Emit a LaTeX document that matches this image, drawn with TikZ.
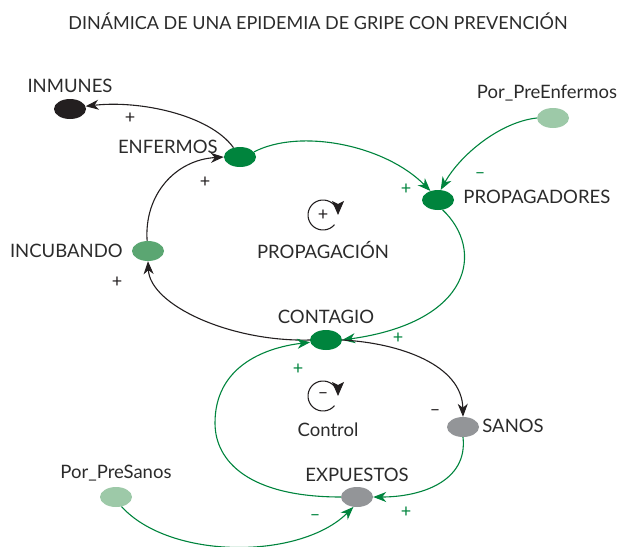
\documentclass[tikz,border=0pt]{standalone}
\usepackage{fontspec}
\setmainfont{Lato}
\usetikzlibrary{positioning, arrows.meta, shapes.geometric}
\definecolor{verde}{HTML}{00843D}
\definecolor{verdemed}{HTML}{5BA672}
\definecolor{verdeclaro}{HTML}{9DC9A8}
\definecolor{gris}{HTML}{939598}
\definecolor{negro}{HTML}{231F20}
\definecolor{texto}{HTML}{2B2B2B}

\begin{document}
\begin{tikzpicture}[x=1pt, y=-1pt,
  var/.style={ellipse, minimum width=32pt, minimum height=20pt, inner sep=0pt},
  lbl/.style={text=texto, font=\fontsize{18.5}{21}\selectfont, inner sep=0pt},
  sgn/.style={font=\fontsize{18}{20}\selectfont, inner sep=0pt},
  enlace/.style={line width=1.1pt, -{Stealth[length=13pt, width=10pt, inset=4pt]}},
  lazo/.style={line width=1.1pt, negro, -{Stealth[length=14pt, width=12pt, inset=3pt]}}]
\useasboundingbox (0,0) rectangle (623,546);

\node (titulo) [text=texto, font=\fontsize{18}{21}\selectfont] at (318,21) {DINÁMICA DE UNA EPIDEMIA DE GRIPE CON PREVENCIÓN};

% variables
\node (inm) [var, fill=negro] at (70,109) {};
\node (enf) [var, fill=verde] at (240,157) {};
\node (pro) [var, fill=verde] at (438,200) {};
\node (ppe) [var, fill=verdeclaro] at (553,118) {};
\node (inc) [var, fill=verdemed] at (148,251) {};
\node (con) [var, fill=verde] at (326,340) {};
\node (san) [var, fill=gris] at (463,427) {};
\node (exp) [var, fill=gris] at (357,497) {};
\node (pps) [var, fill=verdeclaro] at (116,497) {};

% etiquetas
\node (inmL) [lbl, above=6pt of inm] {INMUNES};
\node (enfL) [lbl, left=6pt of enf, yshift=10pt] {ENFERMOS};
\node (proL) [lbl, right=9pt of pro, yshift=3pt] {PROPAGADORES};
\node (ppeL) [lbl, above=6pt of ppe, xshift=-6pt] {Por\_PreEnfermos};
\node (incL) [lbl, left=9pt of inc] {INCUBANDO};
\node (conL) [lbl, above=6pt of con] {CONTAGIO};
\node (sanL) [lbl, right=3pt of san, yshift=1pt] {SANOS};
\node (expL) [lbl, above=5pt of exp] {EXPUESTOS};
\node (ppsL) [lbl, above=5pt of pps] {Por\_PreSanos};

% lazos
\coordinate (lz1) at (323,215);
\coordinate (lz2) at (323,396);
\draw[lazo] (lz1) ++(40:15) arc[start angle=40, end angle=360, radius=15];
\node (lz1s) [sgn, text=negro] at (lz1) {+};
\node (lz1L) [lbl, below=26pt of lz1] {PROPAGACIÓN};
\draw[lazo] (lz2) ++(40:15) arc[start angle=40, end angle=360, radius=15];
\node (lz2s) [sgn, text=negro] at (lz2) {--};
\node (lz2L) [lbl, below=27pt of lz2, xshift=5pt] {Control};

% enlaces
\draw[enlace, negro] (enf.125) .. controls (210,115) and (140,100) .. (inm.10);
\draw[enlace, negro] (inc.95) .. controls (144,195) and (175,160) .. (enf.west);
\draw[enlace, negro] (con.west) .. controls (230,342) and (150,305) .. (inc.south);
\draw[enlace, verde] (enf.20) .. controls (300,128) and (385,145) .. (pro.130);
\draw[enlace, verde] (ppe.west) .. controls (500,122) and (460,155) .. (pro.75);
\draw[enlace, verde] (pro.-65) .. controls (485,250) and (472,322) .. (con.east);
\draw[enlace, negro] (con.east) .. controls (400,343) and (462,365) .. (san.north);
\draw[enlace, verde] (san.south) .. controls (468,482) and (420,497) .. (exp.east);
\draw[enlace, verde] (exp.west) .. controls (250,497) and (215,462) .. (215,423)
  .. controls (215,368) and (262,348) .. (con.188);
\draw[enlace, verde] (pps.-60) .. controls (170,560) and (300,560) .. (exp.-110);

% signos
\node (s1) [sgn, text=negro] at (130,118) {+};
\node (s2) [sgn, text=negro] at (205,182) {+};
\node (s3) [sgn, text=negro] at (117,282) {+};
\node (s4) [sgn, text=verde] at (406,189) {+};
\node (s5) [sgn, text=verde] at (480,176) {--};
\node (s6) [sgn, text=verde] at (398,338) {+};
\node (s7) [sgn, text=negro] at (435,413) {--};
\node (s8) [sgn, text=verde] at (406,512) {+};
\node (s9) [sgn, text=verde] at (298,369) {+};
\node (s10) [sgn, text=verde] at (315,518) {--};
\end{tikzpicture}
\end{document}
